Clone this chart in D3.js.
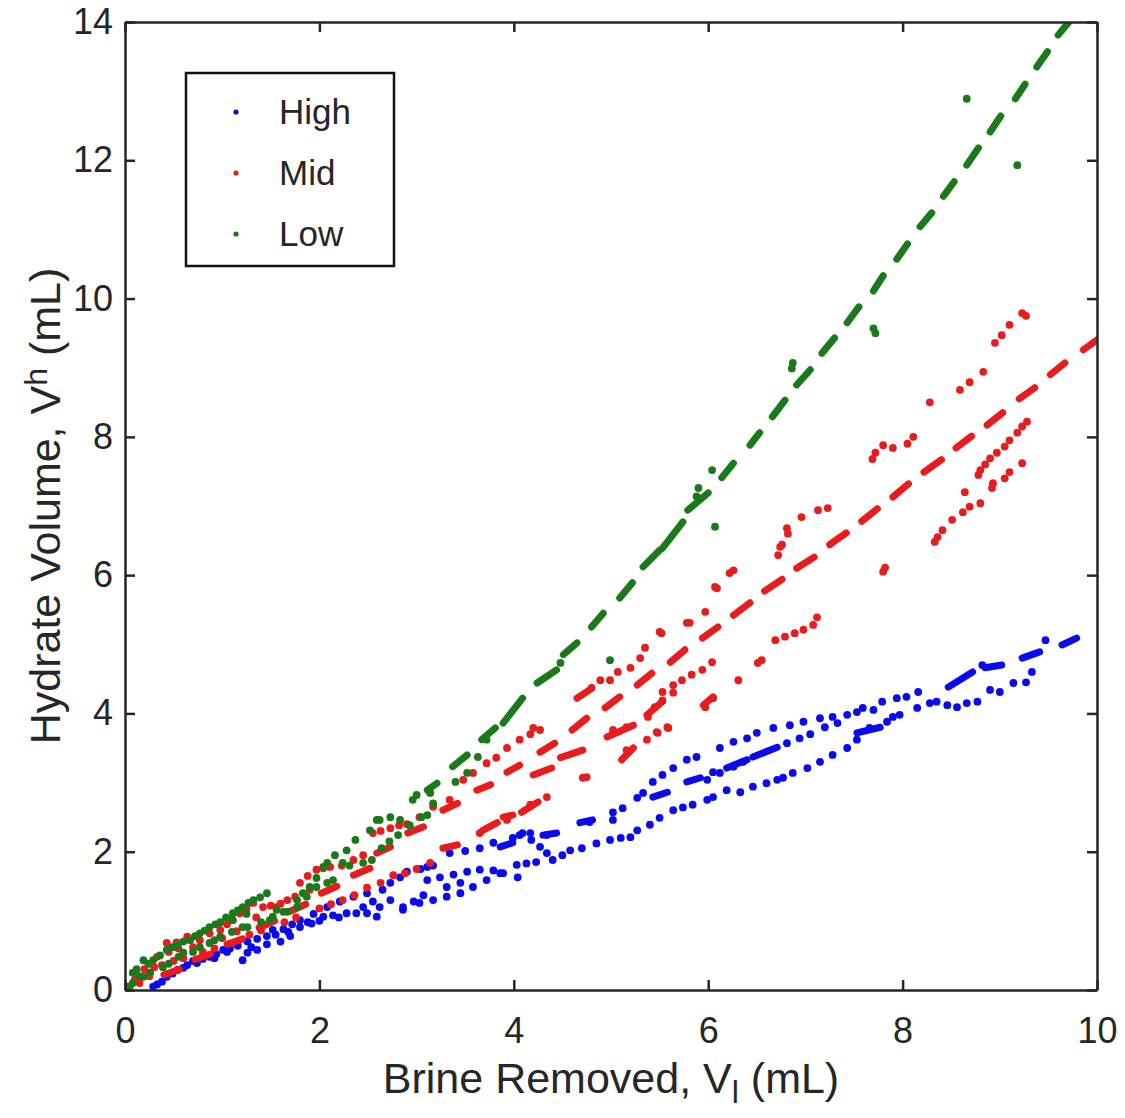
<!DOCTYPE html>
<html>
<head>
<meta charset="utf-8">
<script src="https://cdn.jsdelivr.net/npm/d3@7/dist/d3.min.js"></script>
<style>
  body { margin: 0; background: #fff; }
  text { font-family: "Liberation Sans", Arial, sans-serif; fill: #262626; }
</style>
</head>
<body>
<div id="chart"></div>
<script>
// axis ticks
var xTicks = [0, 2, 4, 6, 8, 10];
var yTicks = [0, 2, 4, 6, 8, 10, 12, 14];

// legend order
var seriesNames = ["High", "Mid", "Low"];

// High: dashes [x1, y1, x2, y2] and single points [x, y]
var highDashes = [
  [9.64,4.99,9.79,5.09],[9.23,4.80,9.41,4.89],[8.85,4.66,9.02,4.70],[8.47,4.38,8.72,4.60],
  [6.46,3.37,6.71,3.51],[6.19,3.21,6.40,3.33],[5.78,3.01,5.92,3.07],[5.43,2.79,5.58,2.86],
  [7.53,3.72,7.77,3.80],[4.68,2.42,4.81,2.46],[4.30,2.24,4.44,2.27],[3.86,2.07,3.99,2.13]
];
var highPoints = [
  [3.34,1.98],[3.50,2.01],[3.65,2.05],[3.79,2.13],[3.99,2.20],[4.06,2.24],[4.17,2.27],[4.34,2.24],
  [4.78,2.43],[5.02,2.57],[5.12,2.63],[5.27,2.78],[5.33,2.85],[5.43,3.01],[5.53,3.11],[5.64,3.21],
  [5.78,3.33],[5.88,3.37],[6.12,3.50],[6.26,3.59],[6.40,3.64],[6.50,3.72],[6.67,3.79],[6.84,3.83],
  [6.98,3.88],[7.15,3.93],[7.28,3.95],[7.43,3.98],[7.53,4.02],[7.59,4.08],[7.70,4.05],[7.79,4.17],
  [7.94,4.22],[8.04,4.24],[8.16,4.31],[8.28,4.15],[8.35,4.17],[8.46,4.12],[8.56,4.09],[8.66,4.15],
  [8.77,4.17],[8.90,4.34],[9.00,4.31],[9.14,4.44],[9.27,4.45],[9.33,4.60],[9.47,5.06],[8.82,4.70],
  [5.02,2.46],[6.05,3.15],[5.99,3.04],[6.12,3.14],[6.26,3.23],[6.36,3.30],[6.81,3.57],[6.94,3.64],
  [7.05,3.70],[7.20,3.80],[7.33,3.86],[7.90,3.95],[8.15,4.08],
  [4.09,2.27],[4.18,2.17],[4.27,2.07],[4.34,1.98],[4.40,1.88],[4.03,1.81],[4.13,1.83],[4.23,1.85],
  [4.04,1.63],[4.50,1.95],[4.58,2.02],[4.70,2.05],[4.85,2.12],[4.99,2.17],[5.10,2.20],[5.20,2.21],
  [5.27,2.31],[5.40,2.39],[5.50,2.49],[5.64,2.60],[5.74,2.64],[5.84,2.68],[5.99,2.75],[6.05,2.79],
  [6.19,2.89],[6.33,2.86],[6.46,2.94],[6.60,2.99],[6.71,3.04],[6.77,3.07],[6.87,3.14],[7.02,3.21],
  [7.15,3.30],[7.28,3.40],[7.43,3.50],[7.53,3.62],[7.66,3.79],[7.84,3.88],[7.97,3.98],
  [0.29,0.05],[0.33,0.08],[0.38,0.12],[0.43,0.19],[0.49,0.24],[0.54,0.29],[0.64,0.36],[0.74,0.39],
  [0.80,0.45],[0.87,0.48],[0.94,0.52],[1.01,0.58],[1.08,0.60],[1.16,0.64],[1.26,0.70],[1.36,0.74],
  [1.46,0.78],[1.52,0.87],[1.63,0.88],[1.72,0.95],[1.80,1.01],[1.94,1.10],[2.08,1.20],[2.21,1.28],
  [2.35,1.35],[2.49,1.40],[2.65,1.45],[2.73,1.55],[2.83,1.63],[2.90,1.71],[3.04,1.75],[3.11,1.78],
  [3.17,1.80],
  [1.21,0.43],[1.26,0.54],[1.36,0.58],[1.46,0.66],[1.60,0.70],[1.70,0.78],[1.80,0.91],[1.92,0.96],
  [2.04,1.06],[2.14,1.08],[2.28,1.11],[2.38,1.11],[2.49,1.11],[2.59,1.06],[2.62,1.20],[2.73,1.30],
  [2.86,1.16],[2.86,1.20],[2.97,1.28],[3.03,1.26],[3.17,1.30],[3.31,1.35],[3.45,1.40],[3.58,1.49],
  [3.72,1.59],[3.86,1.69],[3.07,1.37],[3.31,1.49],[3.45,1.55],[3.11,1.59],[3.24,1.63],[3.38,1.67],
  [3.52,1.71],[3.65,1.74],[3.79,1.73],[3.89,1.69],
  [0.60,0.32],[0.70,0.42],[0.92,0.46],[1.05,0.55],[1.30,0.62],[1.55,0.80],[1.68,0.84],[1.88,0.98],
  [2.00,1.00],[2.20,1.05],[2.45,1.20],[2.55,1.28]
];

// Mid
var midDashes = [
  [9.86,9.26,10.02,9.42],[9.52,8.90,9.67,9.07],[9.20,8.55,9.36,8.71],[8.87,8.17,9.03,8.35],
  [8.55,7.84,8.71,8.01],[8.22,7.49,8.40,7.67],[7.90,7.13,8.06,7.32],[7.58,6.78,7.74,6.96],
  [7.25,6.44,7.42,6.61],[6.91,6.10,7.09,6.26],[6.58,5.77,6.76,5.94],[6.26,5.42,6.43,5.60],
  [5.94,5.09,6.10,5.25],[5.61,4.74,5.76,4.92],[5.27,4.41,5.42,4.58],[4.94,4.08,5.09,4.24],
  [4.60,3.76,4.75,3.93],[4.27,3.44,4.42,3.57],[3.93,3.15,4.06,3.25],[3.62,2.89,3.76,2.97],
  [3.27,2.60,3.42,2.70],[2.91,2.27,3.07,2.36],[2.59,1.98,2.73,2.07],[2.35,1.66,2.52,1.76],
  [2.02,1.40,2.18,1.50],[1.70,1.14,1.86,1.24],[1.38,0.90,1.54,1.00],[1.05,0.66,1.21,0.74],
  [0.72,0.44,0.88,0.52],[0.40,0.22,0.56,0.30],
  [4.96,3.66,5.23,3.83],[5.37,3.98,5.53,4.17],[5.11,3.33,5.23,3.50],[4.48,3.36,4.71,3.47],
  [4.20,3.11,4.39,3.21],[4.08,2.57,4.25,2.72],[3.89,2.50,3.99,2.53],[3.68,2.31,3.83,2.42],
  [3.27,2.05,3.42,2.10],[4.65,4.22,4.78,4.34],[5.95,4.12,6.05,4.24]
];
var midPoints = [
  [3.34,2.75],[3.48,3.04],[3.58,3.14],[3.72,3.28],[3.82,3.36],[3.93,3.50],[4.06,3.62],[4.17,3.70],
  [4.27,3.76],[4.20,3.79],[4.80,4.37],[4.89,4.48],[4.99,4.48],[5.07,4.60],[5.20,4.66],[5.30,4.80],
  [5.35,4.95],[5.52,5.16],[5.50,5.18],[5.78,5.31],[5.81,5.31],[5.97,5.47],[6.07,5.83],[6.09,5.81],
  [6.22,6.03],[6.26,6.07],[6.72,6.29],[6.74,6.41],[6.76,6.44],[6.81,6.68],[6.82,6.60],[6.96,6.84],
  [7.13,6.94],[7.23,6.97],[7.69,7.68],[7.72,7.77],[7.80,7.88],[7.90,7.84],[8.05,7.90],[8.11,8.00],
  [8.28,8.50],[8.59,8.68],[8.69,8.79],[8.83,8.94],[8.95,9.36],[9.02,9.47],[9.10,9.62],[9.23,9.79],
  [9.27,9.75],
  [3.65,2.27],[3.93,2.46],[4.17,2.68],[4.34,2.79],[4.71,3.07],[4.75,3.08],[5.16,3.47],[5.37,3.62],
  [5.47,3.73],[5.58,3.80],[5.48,3.72],[5.59,3.79],[5.02,3.76],[5.16,3.80],[5.38,3.95],[5.45,4.09],
  [5.53,4.19],[5.53,4.31],[5.64,4.41],[5.73,4.48],[5.83,4.56],[5.94,4.63],[6.04,4.74],[5.97,4.09],
  [6.05,4.22],[6.31,4.48],[6.51,4.73],[6.55,4.77],[6.69,5.06],[6.79,5.11],[6.89,5.16],[6.98,5.21],
  [7.08,5.28],[7.12,5.39],[7.80,6.05],[7.82,6.11],[8.33,6.48],[8.36,6.55],[8.41,6.65],[8.51,6.80],
  [8.62,6.91],[8.69,6.99],[8.80,7.04],[8.64,7.20],[8.92,7.26],[8.93,7.33],[9.05,7.40],[9.10,7.49],
  [9.23,7.62],[8.78,7.45],[8.80,7.52],[8.85,7.60],[8.90,7.69],[8.97,7.77],[9.05,7.86],[9.10,7.95],
  [9.18,8.06],[9.23,8.15],[9.28,8.22],[5.64,4.30],
  [0.10,0.15],[0.20,0.30],[0.33,0.48],[0.43,0.68],[0.53,0.69],[0.64,0.77],[0.77,0.72],[0.87,0.82],
  [0.98,0.87],[1.05,0.95],[1.11,1.01],[1.18,1.11],[1.25,1.18],[1.32,1.26],[1.42,1.20],[1.50,1.22],
  [1.56,1.20],[1.67,1.30],[1.80,1.55],[1.88,1.65],[1.97,1.74],[2.04,1.76],[2.11,1.78],[2.23,1.80],
  [2.35,1.88],[2.45,1.95],[2.55,2.27],[2.63,2.30],[2.73,2.34],[2.82,2.38],[2.90,2.40],[3.03,2.50],
  [3.17,2.65],
  [0.15,0.10],[0.25,0.20],[0.30,0.33],[0.38,0.36],[0.50,0.42],[0.60,0.46],[0.80,0.55],[0.92,0.60],
  [1.28,0.80],[1.40,0.86],[1.64,0.98],[1.76,1.05],[2.00,1.18],[2.12,1.24],[2.24,1.30],[2.36,1.37],
  [2.49,1.48],[2.63,1.55],[2.76,1.66],[2.88,1.69],[3.00,1.75],[3.14,1.84],
  [0.45,0.55],[0.55,0.60],[0.70,0.62],[1.00,0.75],[1.15,0.85],[1.35,1.05],[1.60,1.25],[1.75,1.35],
  [1.90,1.45]
];

// Low
var lowDashes = [
  [9.60,13.81,9.74,14.05],[9.38,13.35,9.49,13.57],[9.16,12.89,9.26,13.10],[8.90,12.41,9.01,12.64],
  [8.66,11.93,8.78,12.18],[8.42,11.48,8.53,11.69],[8.18,11.04,8.30,11.24],[7.94,10.57,8.05,10.79],
  [7.70,10.11,7.80,10.33],[7.43,9.65,7.55,9.88],[7.17,9.21,7.30,9.43],[6.91,8.75,7.05,8.97],
  [6.66,8.29,6.79,8.53],[6.43,7.88,6.53,8.06],[6.14,7.41,6.26,7.62],[5.79,6.94,6.00,7.19],
  [5.53,6.39,5.74,6.77],[5.33,6.12,5.50,6.36],[5.09,5.67,5.22,5.89],[4.80,5.25,4.92,5.45],
  [4.51,4.85,4.65,5.02],[4.24,4.44,4.44,4.63],[3.89,3.86,4.09,4.22],[3.67,3.62,3.81,3.79],
  [3.37,3.23,3.52,3.40],[3.11,2.89,3.21,2.99]
];
var lowPoints = [
  [8.66,12.89],[9.18,11.93],[7.70,9.57],[7.72,9.50],[6.87,9.07],[6.86,8.99],[6.04,7.52],[5.90,7.26],
  [5.88,7.14],[6.07,6.70],[4.99,4.77],[4.48,4.73],[3.63,3.37],[3.52,3.14],[3.40,3.01],[3.00,2.82],
  [3.72,3.62],
  [0.03,0.05],[0.08,0.25],[0.12,0.30],[0.19,0.43],[0.24,0.38],[0.29,0.43],[0.36,0.50],[0.43,0.58],
  [0.49,0.62],[0.54,0.65],[0.60,0.70],[0.67,0.72],[0.72,0.78],[0.77,0.82],[0.82,0.86],[0.87,0.91],
  [0.93,0.95],[0.98,0.98],[1.04,1.05],[1.11,1.11],[1.16,1.15],[1.21,1.20],[1.27,1.26],[1.32,1.30],
  [1.39,1.34],[1.46,1.40],[1.56,1.16],[1.67,1.13],[1.77,1.30],[1.83,1.40],[1.90,1.49],[1.97,1.62],
  [2.04,1.78],[2.08,1.84],[2.16,1.95],[2.28,2.02],[2.37,2.17],[2.52,2.31],[2.59,2.46],[2.62,2.46],
  [2.73,2.50],[2.83,2.46],[2.96,2.75],[3.14,2.85],
  [0.05,0.05],[0.08,0.10],[0.15,0.20],[0.19,0.19],[0.26,0.25],[0.39,0.33],[0.45,0.38],[0.60,0.54],
  [0.70,0.55],[0.77,0.62],[0.87,0.68],[0.98,0.77],[1.10,0.84],[1.21,0.91],[1.26,0.91],[1.40,0.98],
  [1.49,1.01],[1.52,1.06],[1.63,1.13],[1.77,1.20],[1.87,1.35],[1.97,1.49],[2.08,1.55],[2.14,1.59],
  [2.24,1.84],[2.31,1.80],[2.45,1.84],[2.54,1.88],[2.64,2.05],[2.72,2.15],[2.81,2.24],[2.93,2.38],
  [3.05,2.50],[3.11,2.53],[3.17,2.70],
  [1.10,1.02],[1.25,1.10],[0.55,0.48],[0.92,0.72]
];

var colors = ["#0a0af0", "#e81c1c", "#1a7a1a"];

var width = 1125, height = 1118;
var plot = {left:125, right:1097, top:22, bottom:990};

var x = d3.scaleLinear().domain([0, 10]).range([plot.left, plot.right]);
var y = d3.scaleLinear().domain([0, 14]).range([plot.bottom, plot.top]);

var svg = d3.select("#chart").append("svg")
  .attr("width", width)
  .attr("height", height);

svg.append("clipPath").attr("id", "clip")
  .append("rect")
    .attr("x", plot.left).attr("y", plot.top)
    .attr("width", plot.right - plot.left).attr("height", plot.bottom - plot.top);

var series = [
  {dashes: highDashes, points: highPoints, color: colors[0]},
  {dashes: midDashes, points: midPoints, color: colors[1]},
  {dashes: lowDashes, points: lowPoints, color: colors[2]}
];

var marks = svg.append("g").attr("clip-path", "url(#clip)");

series.forEach(function(s) {
  var g = marks.append("g");
  g.selectAll("line").data(s.dashes).enter()
    .append("line")
      .attr("x1", function(d) { return x(d[0]); })
      .attr("y1", function(d) { return y(d[1]); })
      .attr("x2", function(d) { return x(d[2]); })
      .attr("y2", function(d) { return y(d[3]); })
      .attr("stroke", s.color)
      .attr("stroke-width", 7)
      .attr("stroke-linecap", "round");
  g.selectAll("circle").data(s.points).enter()
    .append("circle")
      .attr("cx", function(d) { return x(d[0]); })
      .attr("cy", function(d) { return y(d[1]); })
      .attr("r", 3.9)
      .attr("fill", s.color);
});

// axes, ticks pointing inward on all four sides
function styleAxis(g) {
  g.attr("font-family", null).attr("font-size", null);
  g.selectAll("path.domain").attr("stroke", "#262626").attr("stroke-width", 2.5);
  g.selectAll(".tick line").attr("stroke", "#262626").attr("stroke-width", 2.5);
  g.selectAll(".tick text").style("font-size", "36px").attr("fill", "#262626");
}

svg.append("g")
  .attr("transform", "translate(0," + plot.bottom + ")")
  .call(d3.axisBottom(x).tickValues(xTicks).tickFormat(d3.format("d"))
    .tickSizeInner(-10).tickSizeOuter(0).tickPadding(27))
  .call(styleAxis);

svg.append("g")
  .attr("transform", "translate(" + plot.left + ",0)")
  .call(d3.axisLeft(y).tickValues(yTicks).tickFormat(d3.format("d"))
    .tickSizeInner(-10).tickSizeOuter(0).tickPadding(12))
  .call(styleAxis);

svg.append("g")
  .attr("transform", "translate(0," + plot.top + ")")
  .call(d3.axisTop(x).tickValues(xTicks).tickFormat("").tickSizeInner(-10).tickSizeOuter(0))
  .call(styleAxis);

svg.append("g")
  .attr("transform", "translate(" + plot.right + ",0)")
  .call(d3.axisRight(y).tickValues(yTicks).tickFormat("").tickSizeInner(-10).tickSizeOuter(0))
  .call(styleAxis);

// axis titles
var xt = svg.append("text")
  .attr("x", (plot.left + plot.right) / 2)
  .attr("y", 1093)
  .attr("text-anchor", "middle")
  .style("font-size", "43px");
xt.append("tspan").text("Brine Removed, V");
xt.append("tspan").attr("baseline-shift", "-30%").style("font-size", "32px").text("l");
xt.append("tspan").text(" (mL)");

var yt = svg.append("text")
  .attr("transform", "translate(60," + (plot.top + plot.bottom) / 2 + ") rotate(-90)")
  .attr("text-anchor", "middle")
  .style("font-size", "43px");
yt.append("tspan").text("Hydrate Volume, V");
yt.append("tspan").attr("baseline-shift", "40%").style("font-size", "32px").text("h");
yt.append("tspan").text(" (mL)");

// legend
var legend = svg.append("g");
legend.append("rect")
  .attr("x", 186).attr("y", 73)
  .attr("width", 208).attr("height", 193)
  .attr("fill", "#fff")
  .attr("stroke", "#111")
  .attr("stroke-width", 2.5);

var rows = legend.selectAll("g.row").data(seriesNames).enter()
  .append("g")
    .attr("class", "row")
    .attr("transform", function(d, i) { return "translate(0," + (112 + i * 61) + ")"; });

rows.append("circle")
  .attr("cx", 236).attr("cy", 0).attr("r", 2.6)
  .attr("fill", function(d, i) { return colors[i]; });

rows.append("text")
  .attr("x", 279).attr("dy", "0.35em")
  .style("font-size", "35px")
  .text(function(d) { return d; });
</script>
</body>
</html>
